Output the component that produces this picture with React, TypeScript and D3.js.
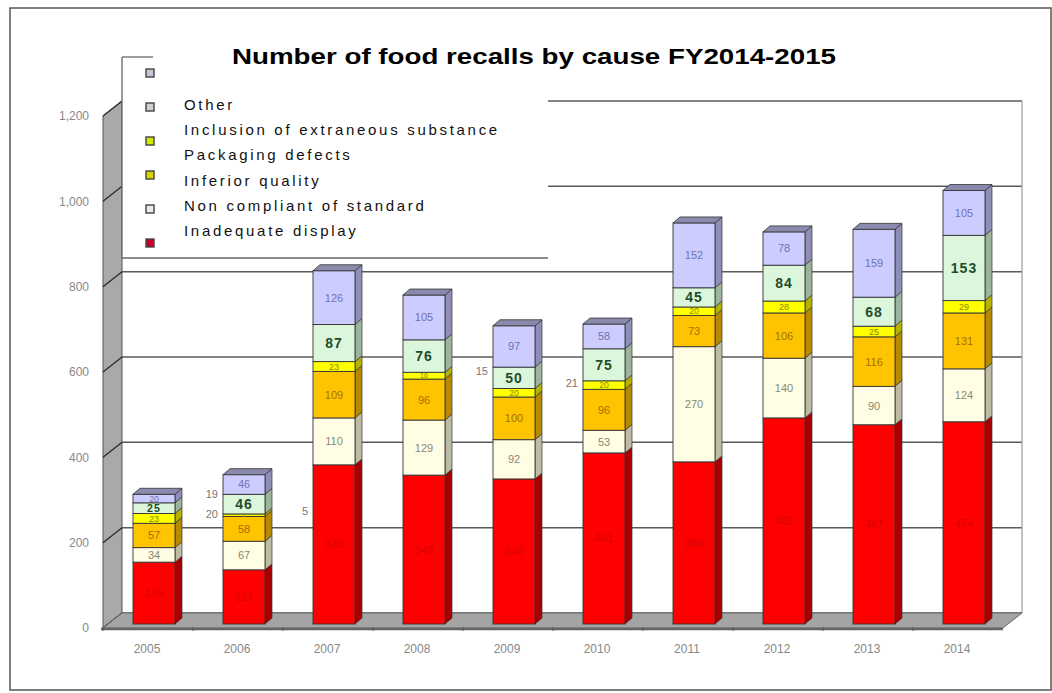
import React from 'react';
import * as d3 from 'd3';

const years = ['2005', '2006', '2007', '2008', '2009', '2010', '2011', '2012', '2013', '2014'];
const inadequateDisplay = [145, 127, 373, 349, 340, 401, 380, 483, 467, 474];
const nonCompliant = [34, 67, 110, 129, 92, 53, 270, 140, 90, 124];
const inferiorQuality = [57, 58, 109, 96, 100, 96, 73, 106, 116, 131];
const packagingDefects = [23, 6, 23, 16, 20, 20, 20, 28, 25, 29];
const inclusionExtraneous = [25, 46, 87, 76, 50, 75, 45, 84, 68, 153];
const otherCauses = [20, 46, 126, 105, 97, 58, 152, 78, 159, 105];
const yTicks = [0, 200, 400, 600, 800, 1000, 1200];
const legendLabels = ['Other', 'Inclusion of extraneous substance', 'Packaging defects', 'Inferior quality', 'Non compliant of standard', 'Inadequate display'];
const legendMarkerColors = ['#c4c4d4', '#cfcfcf', '#d2ea00', '#d8d400', '#ecece4', '#c8002a'];
const strayLabels = [
  { year: '2006', text: '19', level: 305 },
  { year: '2006', text: '20', level: 258 },
  { year: '2007', text: '5', level: 265 },
  { year: '2009', text: '15', level: 593 },
  { year: '2010', text: '21', level: 565 },
];

const seriesDefs = [
  { key: 'inadequate', values: inadequateDisplay, fill: '#ff0000', side: '#a80000', label: '#d80000', size: 11, bold: false },
  { key: 'noncompliant', values: nonCompliant, fill: '#fffde4', side: '#bdbba4', label: '#8a8a7a', size: 11, bold: false },
  { key: 'inferior', values: inferiorQuality, fill: '#ffc400', side: '#b88a00', label: '#a86e00', size: 11, bold: false },
  { key: 'packaging', values: packagingDefects, fill: '#ffff00', side: '#b4b400', label: '#8a8a00', size: 9, bold: false },
  { key: 'inclusion', values: inclusionExtraneous, fill: '#dcf6dc', side: '#9cb49c', label: '#1f4d2a', size: 14, bold: true },
  { key: 'other', values: otherCauses, fill: '#ccccff', side: '#8e8eb8', label: '#7272b0', size: 11, bold: false },
];

const W = 1052;
const H = 693;
const WALL_DX = 19;
const WALL_DY = -15;
const BAR_DY = -4;
const BAR_OFF = 30;
const BAR_W = 42;
const BAR_DEPTH_X = 7;
const BAR_DEPTH_Y = -6;
const FONT = 'Liberation Sans, Arial, sans-serif';

export default function App() {
  const x = d3.scaleBand<string>().domain(years).range([103, 1003]).paddingInner(0).paddingOuter(0);
  const y = d3.scaleLinear().domain([0, 1200]).range([628, 116]);
  const yBar = (v: number) => y(v) + BAR_DY;

  const table = years.map((yr, i) => {
    const row: any = { year: yr };
    seriesDefs.forEach((s) => (row[s.key] = s.values[i]));
    return row;
  });
  const stacked = d3.stack<any>().keys(seriesDefs.map((s) => s.key))(table);

  const wallLeft = x.range()[0] + WALL_DX;
  const wallRight = x.range()[1] + WALL_DX;
  const axisLeft = x.range()[0];
  const top = y(1200);
  const base = y(0);

  const legendMarkY = d3.scaleLinear().domain([0, 5]).range([73, 243]);
  const legendTextY = d3.scaleLinear().domain([0, 5]).range([105, 231]);

  return (
    <svg width={W} height={H} style={{ position: 'absolute', left: 0, top: 0, background: '#fff' }}>
      <rect x={0} y={0} width={W} height={H} fill="#fff" />
      {/* outer frame */}
      <rect x={10} y={8} width={1041} height={682} fill="none" stroke="#555" strokeWidth={1.5} />

      {/* back wall */}
      <rect x={wallLeft} y={top + WALL_DY} width={wallRight - wallLeft} height={base - top} fill="#fff" />
      {yTicks.map((t) => (
        <line key={'g' + t} x1={wallLeft} x2={wallRight} y1={y(t) + WALL_DY} y2={y(t) + WALL_DY} stroke="#5a5a5a" strokeWidth={1.5} />
      ))}
      <line x1={wallRight} x2={wallRight} y1={top + WALL_DY} y2={base + WALL_DY} stroke="#9a9a9a" strokeWidth={1.2} />

      {/* side wall */}
      <polygon
        points={`${axisLeft},${top} ${wallLeft},${top + WALL_DY} ${wallLeft},${base + WALL_DY} ${axisLeft},${base}`}
        fill="#a9a9a9"
        stroke="#555"
        strokeWidth={1}
      />
      {yTicks.map((t) => (
        <line key={'s' + t} x1={axisLeft} x2={wallLeft} y1={y(t)} y2={y(t) + WALL_DY} stroke="#2a2a2a" strokeWidth={1.3} />
      ))}

      {/* floor */}
      <polygon
        points={`${axisLeft},${base} ${x.range()[1]},${base} ${wallRight},${base + WALL_DY} ${wallLeft},${base + WALL_DY}`}
        fill="#a4a4a4"
        stroke="#6a6a6a"
        strokeWidth={1}
      />
      <line x1={axisLeft - 2} x2={x.range()[1]} y1={base + 1} y2={base + 1} stroke="#666" strokeWidth={2.5} />
      {years.map((yr) => (
        <line key={'ft' + yr} x1={x(yr)!} x2={x(yr)!} y1={base - 1} y2={base + 3} stroke="#555" strokeWidth={1} />
      ))}

      {/* legend box */}
      <rect x={wallLeft} y={57} width={548 - wallLeft} height={201} fill="#fff" />
      <line x1={wallLeft} x2={wallLeft} y1={57} y2={258} stroke="#666" strokeWidth={1.3} />
      <line x1={wallLeft} x2={548} y1={258} y2={258} stroke="#666" strokeWidth={1.3} />
      <line x1={wallLeft} x2={153} y1={57} y2={57} stroke="#666" strokeWidth={1.3} />
      {legendMarkerColors.map((c, i) => (
        <rect key={'lm' + i} x={146} y={legendMarkY(i) - 4} width={8} height={8} fill={c} stroke="#444" strokeWidth={1.4} />
      ))}
      {legendLabels.map((l, i) => (
        <text key={'lt' + i} x={184} y={legendTextY(i) + 5} fontFamily={FONT} fontSize={15} letterSpacing={2.7} fill="#111">
          {l}
        </text>
      ))}

      {/* bars */}
      {years.map((yr, i) => {
        const x0 = x(yr)! + BAR_OFF;
        const totalTop = stacked[stacked.length - 1][i][1];
        const topColor = d3.color(seriesDefs[seriesDefs.length - 1].fill)!.darker(1.1).toString();
        return (
          <g key={'b' + yr}>
            {stacked.map((layer, si) => {
              const [a, b] = layer[i];
              const s = seriesDefs[si];
              const ya = yBar(a);
              const yb = yBar(b);
              return (
                <g key={s.key}>
                  <polygon
                    points={`${x0 + BAR_W},${yb} ${x0 + BAR_W + BAR_DEPTH_X},${yb + BAR_DEPTH_Y} ${x0 + BAR_W + BAR_DEPTH_X},${ya + BAR_DEPTH_Y} ${x0 + BAR_W},${ya}`}
                    fill={s.side}
                    stroke="#333"
                    strokeWidth={0.7}
                  />
                  <rect x={x0} y={yb} width={BAR_W} height={ya - yb} fill={s.fill} stroke="#333" strokeWidth={0.9} />
                </g>
              );
            })}
            <polygon
              points={`${x0},${yBar(totalTop)} ${x0 + BAR_DEPTH_X},${yBar(totalTop) + BAR_DEPTH_Y} ${x0 + BAR_W + BAR_DEPTH_X},${yBar(totalTop) + BAR_DEPTH_Y} ${x0 + BAR_W},${yBar(totalTop)}`}
              fill={topColor}
              stroke="#333"
              strokeWidth={0.8}
            />
            {stacked.map((layer, si) => {
              const [a, b] = layer[i];
              const s = seriesDefs[si];
              const ya = yBar(a);
              const yb = yBar(b);
              const ym = (ya + yb) / 2;
              const fs = Math.max(6, Math.min(s.size, (ya - yb) * 0.9 + 1));
              return (
                <text
                  key={'t' + s.key}
                  x={x0 + BAR_W / 2}
                  y={ym}
                  dy="0.36em"
                  textAnchor="middle"
                  fontFamily={FONT}
                  fontSize={fs}
                  fontWeight={s.bold ? 'bold' : 'normal'}
                  letterSpacing={s.bold ? 1 : 0}
                  fill={s.label}
                >
                  {b - a}
                </text>
              );
            })}
          </g>
        );
      })}

      {/* stray labels */}
      {strayLabels.map((d, i) => (
        <text key={'sl' + i} x={x(d.year)! + BAR_OFF - 5} y={yBar(d.level)} dy="0.36em" textAnchor="end" fontFamily={FONT} fontSize={11} fill="#777">
          {d.text}
        </text>
      ))}

      {/* y axis labels */}
      {yTicks.map((t) => (
        <text key={'yl' + t} x={89} y={y(t)} dy="0.36em" textAnchor="end" fontFamily={FONT} fontSize={12} fill="#888">
          {d3.format(',')(t)}
        </text>
      ))}

      {/* x axis labels */}
      {years.map((yr) => (
        <text key={'xl' + yr} x={x(yr)! + x.bandwidth() / 2 - 1} y={653} textAnchor="middle" fontFamily={FONT} fontSize={12} fill="#888">
          {yr}
        </text>
      ))}

      {/* title */}
      <text x={534} y={64} textAnchor="middle" fontFamily={FONT} fontSize={22} fontWeight="bold" fill="#000" textLength={604} lengthAdjust="spacingAndGlyphs">
        Number of food recalls by cause FY2014-2015
      </text>
    </svg>
  );
}
